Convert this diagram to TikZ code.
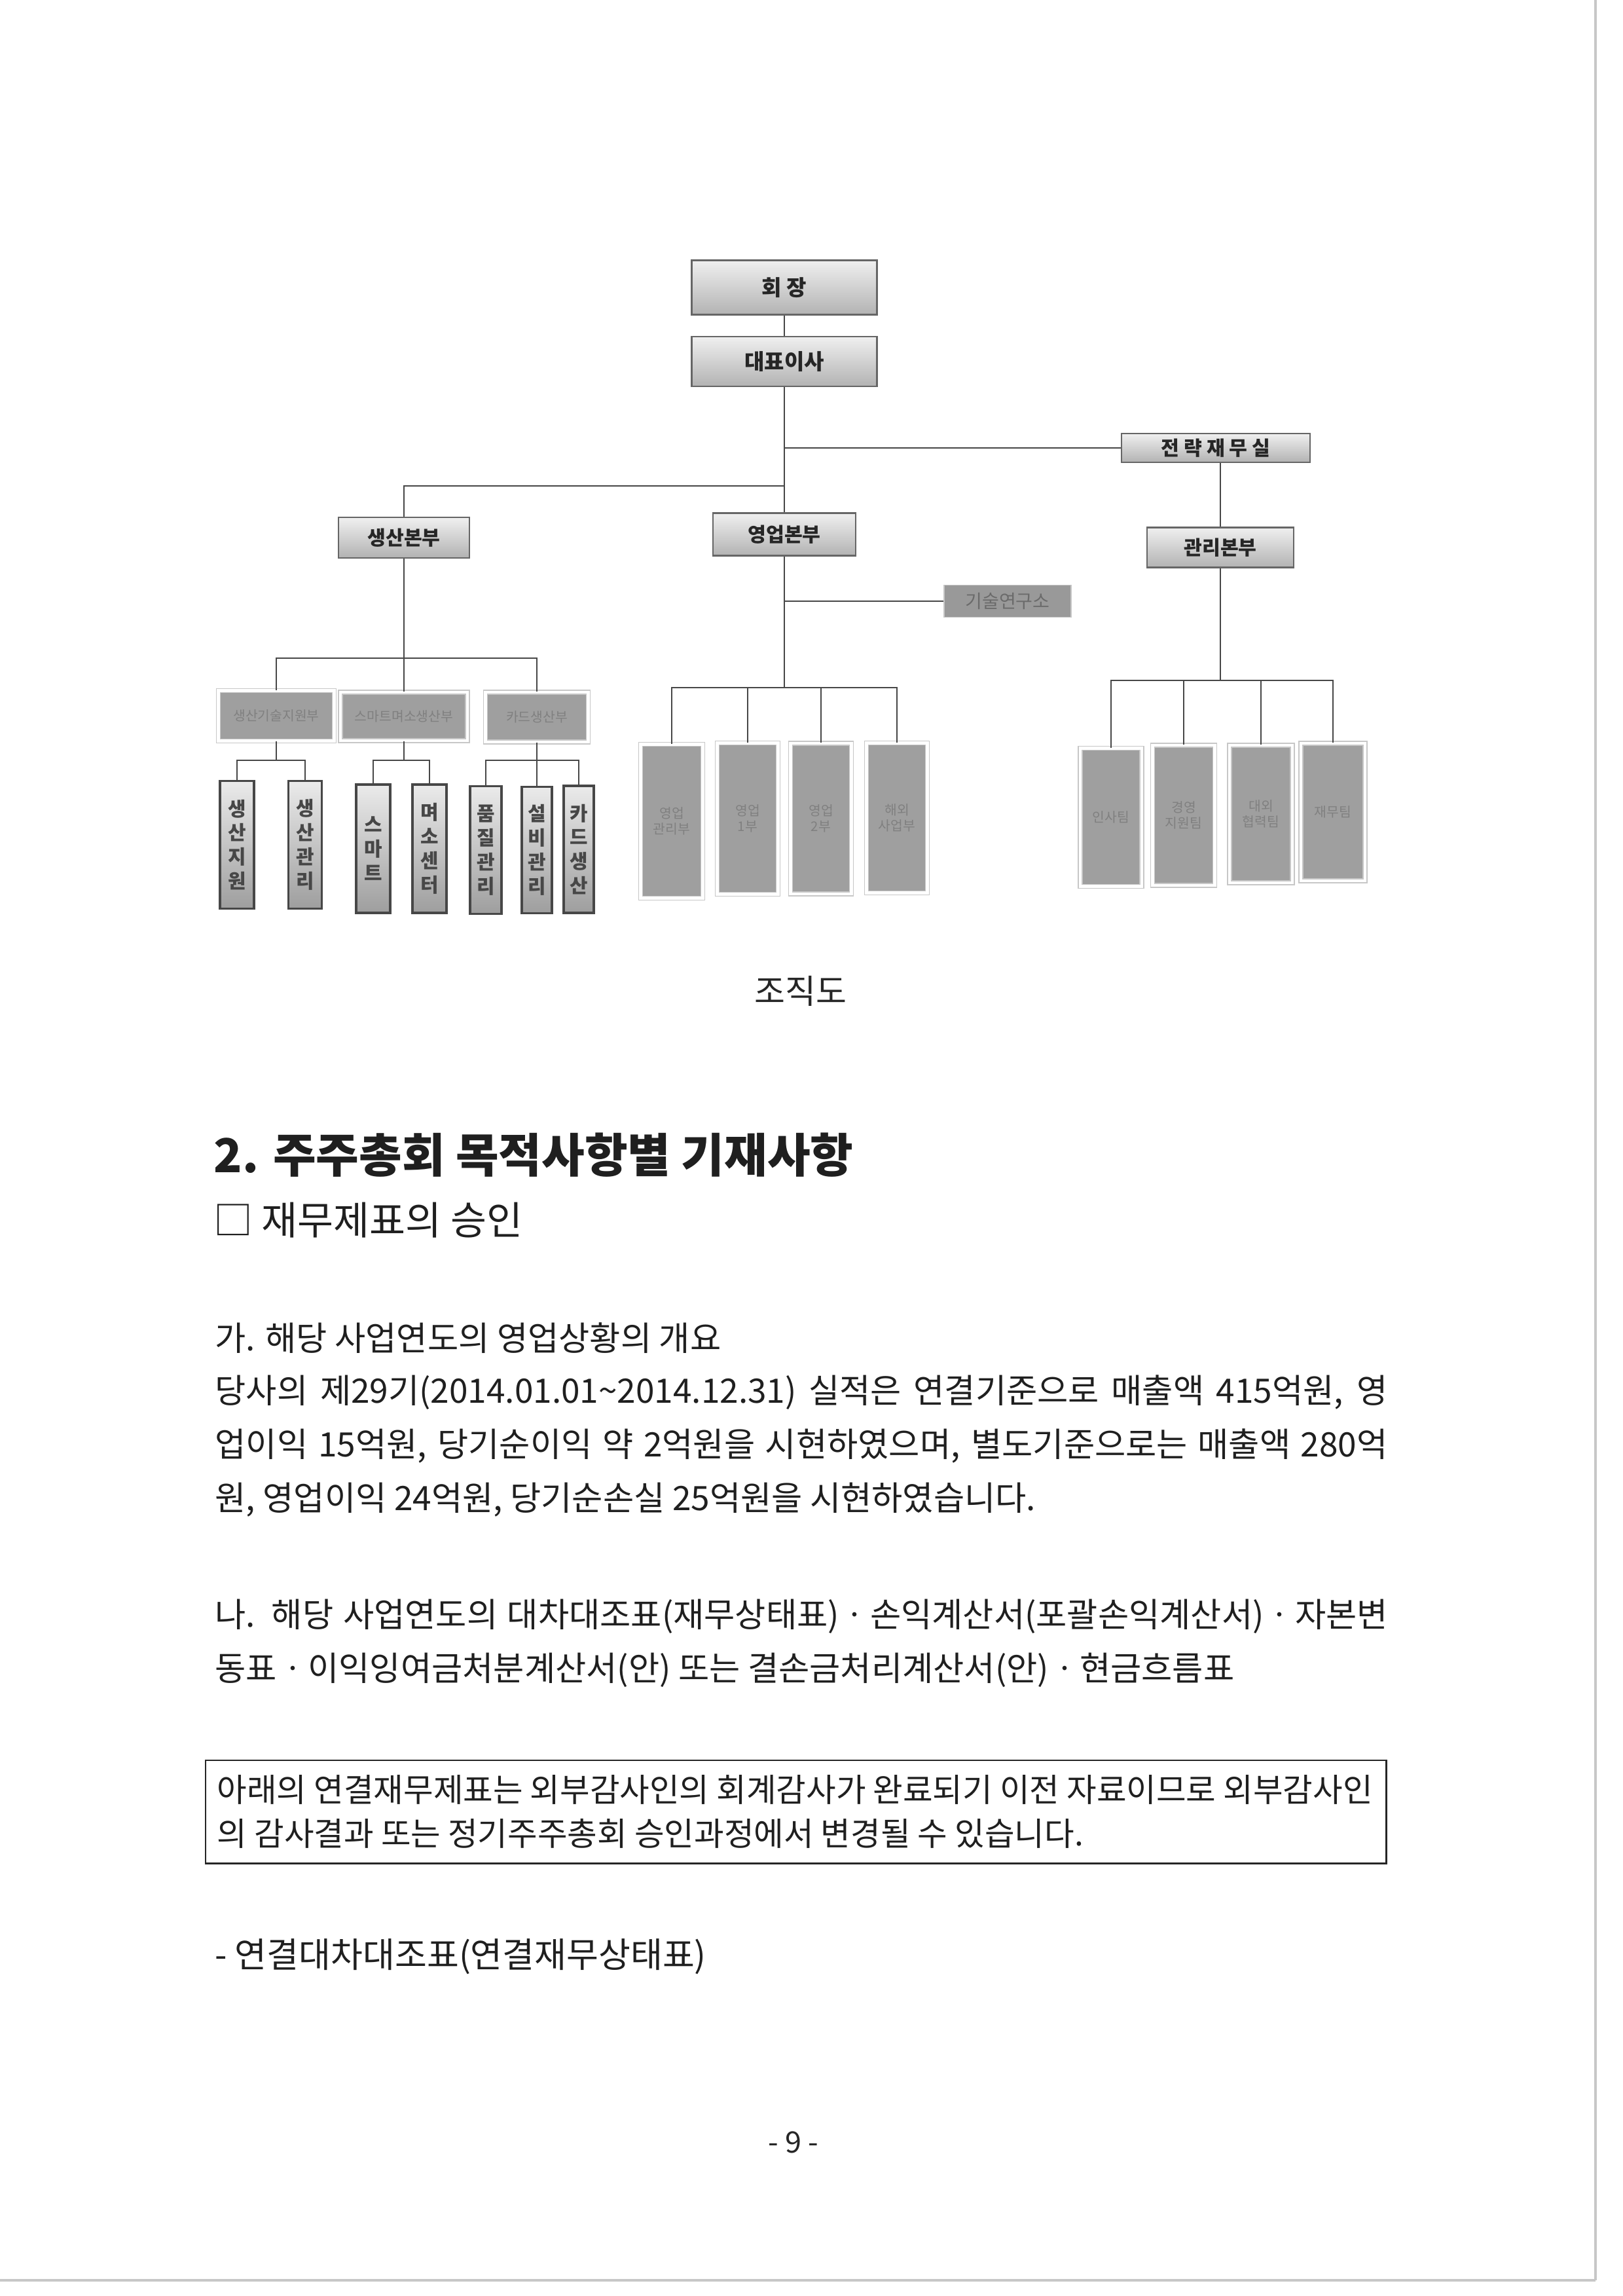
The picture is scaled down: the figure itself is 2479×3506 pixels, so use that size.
\documentclass[tikz,border=0pt]{standalone}
\usepackage{fontspec}
\setmainfont{Noto Sans CJK KR}
\definecolor{boxg}{HTML}{9F9F9F}
\definecolor{ftext}{HTML}{808080}
\tikzset{
  link/.style={draw=black!72, line width=0.75pt},
  sz/.style 2 args={minimum width=#1*0.01cm, minimum height=#2*0.01cm},
  topbox/.style={draw=black!60, line width=0.6pt, top color=black!6, bottom color=black!30,
    text=black!85, font=\bfseries\fontsize{8.6}{9}\selectfont, inner sep=0pt},
  labbox/.style={fill=black!40, draw=black!22, line width=0.4pt, text=black!58,
    font=\fontsize{8}{9}\selectfont, inner sep=0pt},
  greybox/.style={fill=boxg, draw=black!22, double=white, double distance=1.4pt, line width=0.4pt,
    text=ftext, font=\fontsize{5.8}{7}\selectfont, align=center, inner sep=0pt},
  vbox/.style={draw=black!72, line width=1.1pt, top color=black!8, bottom color=black!38,
    text=black!72, font=\bfseries\fontsize{8.5}{10.5}\selectfont, align=center, inner sep=0pt},
  txt/.style={anchor=base west, inner sep=0pt, text=black!88},
  body/.style={txt, font=\fontsize{14.6}{17}\selectfont},
}
\begin{document}
\begin{tikzpicture}[x=0.01cm, y=-0.01cm]
\fill[white] (0,0) rectangle (2479,3506);
\useasboundingbox (0,0) rectangle (2479,3506);
% scan edges
\draw[black!22, line width=1pt] (2437,0) -- (2437,3482);
\draw[black!22, line width=1pt] (0,3482) -- (2437,3482);

% ---------- org chart ----------
\node[topbox, sz={283}{83}, font=\bfseries\fontsize{9.4}{10}\selectfont] (hj) at (1198,439) {회 장};
\node[topbox, sz={283}{76}, font=\bfseries\fontsize{9.4}{10}\selectfont] (ceo) at (1198,552) {대표이사};
\node[topbox, sz={288}{44}] (strat) at (1857,684) {전 략 재 무 실};
\node[topbox, sz={224}{61}] (mgmt) at (1864,836) {관리본부};
\node[topbox, sz={200}{62}] (prod) at (617,821) {생산본부};
\node[topbox, sz={218}{65}] (sales) at (1198,816) {영업본부};
\node[labbox, sz={194}{49}] (lab) at (1539,918) {기술연구소};

\coordinate (jp) at (1198,742);
\coordinate (jl) at (1198,918);
\coordinate (sb) at (1198,1050);
\coordinate (mb) at (1864,1039);
\coordinate (pb) at (617,1005);

\draw[link] (hj) -- (ceo);
\draw[link] (ceo.south) -- (sales.north);
\draw[link] (ceo.south |- strat.west) -- (strat.west);
\draw[link] (jp) -| (prod.north);
\draw[link] (strat.south -| mgmt.north) -- (mgmt.north);
\draw[link] (sales.south) -- (sb);
\draw[link] (jl) -- (lab.west);
\draw[link] (mgmt.south) -- (mb);
\draw[link] (prod.south) -- (pb);

% production level 2
\node[greybox, sz={177}{77}] (p1) at (422,1093) {생산기술지원부};
\node[greybox, sz={194}{74}] (p2) at (617,1094) {스마트며소생산부};
\node[greybox, sz={157}{76}] (p3) at (820,1095) {카드생산부};
\draw[link] (pb) -| (p1.north);
\draw[link] (pb) -- (p2.north);
\draw[link] (pb) -| (p3.north);

% production level 3
\coordinate (ab) at (422,1161);
\coordinate (bb) at (617,1161);
\coordinate (cb) at (820,1161);
\node[vbox, sz={52}{195}] (a1) at (362,1290) {생\\산\\지\\원};
\node[vbox, sz={51}{195}] (a2) at (466,1290) {생\\산\\관\\리};
\node[vbox, sz={52}{196}] (b1) at (570,1296) {스\\마\\트};
\node[vbox, sz={52}{196}] (b2) at (656,1296) {며\\소\\센\\터};
\node[vbox, sz={48}{195}] (c1) at (742,1298) {품\\질\\관\\리};
\node[vbox, sz={46}{193}] (c2) at (820,1298) {설\\비\\관\\리};
\node[vbox, sz={46}{194}] (c3) at (884,1297) {카\\드\\생\\산};
\draw[link] (p1.south) -- (ab);
\draw[link] (ab) -| (a1.north);
\draw[link] (ab) -| (a2.north);
\draw[link] (p2.south) -- (bb);
\draw[link] (bb) -| (b1.north);
\draw[link] (bb) -| (b2.north);
\draw[link] (p3.south) -- (c2.north);
\draw[link] (cb) -| (c1.north);
\draw[link] (cb) -| (c3.north);

% sales
\node[greybox, sz={95}{235}] (s1) at (1026,1254) {영업\\관리부};
\node[greybox, sz={93}{231}] (s2) at (1142,1250) {영업\\1부};
\node[greybox, sz={93}{230}] (s3) at (1254,1250) {영업\\2부};
\node[greybox, sz={93}{229}] (s4) at (1370,1249) {해외\\사업부};
\draw[link] (sb) -| (s1.north);
\draw[link] (sb) -| (s2.north);
\draw[link] (sb) -| (s3.north);
\draw[link] (sb) -| (s4.north);

% management
\node[greybox, sz={94}{211}] (m1) at (1697,1248) {인사팀};
\node[greybox, sz={95}{214}] (m2) at (1808,1245) {경영\\지원팀};
\node[greybox, sz={96}{210}] (m3) at (1926,1243) {대외\\협력팀};
\node[greybox, sz={98}{210}] (m4) at (2036,1240) {재무팀};
\draw[link] (mb) -| (m1.north);
\draw[link] (mb) -| (m2.north);
\draw[link] (mb) -| (m3.north);
\draw[link] (mb) -| (m4.north);

\node[anchor=base, inner sep=0pt, text=black!85, font=\fontsize{14.5}{16}\selectfont] (cap) at (1223,1532) {조직도};

% ---------- text ----------
\node[txt, font=\bfseries\fontsize{20.3}{23}\selectfont] (h2) at (326,1790) {2. 주주총회 목적사항별 기재사항};
\node[txt, font=\fontsize{17}{19}\selectfont] (h3) at (326,1885) {□ 재무제표의 승인};

\node[body] (l1) at (328,2062) {가. 해당 사업연도의 영업상황의 개요};
\node[body] (l2) at (328,2142) {\makebox[17.90cm][s]{당사의 제29기(2014.01.01\textasciitilde2014.12.31) 실적은 연결기준으로 매출액 415억원, 영}};
\node[body] (l3) at (328,2224) {\makebox[17.90cm][s]{업이익 15억원, 당기순이익 약 2억원을 시현하였으며, 별도기준으로는 매출액 280억}};
\node[body] (l4) at (328,2306) {원, 영업이익 24억원, 당기순손실 25억원을 시현하였습니다.};

\node[body] (l5) at (328,2484) {\makebox[17.90cm][s]{나. 해당 사업연도의 대차대조표(재무상태표)ㆍ손익계산서(포괄손익계산서)ㆍ자본변}};
\node[body] (l6) at (328,2566) {동표ㆍ이익잉여금처분계산서(안) 또는 결손금처리계산서(안)ㆍ현금흐름표};

\node[draw=black!85, line width=0.7pt, minimum width=18.02cm, minimum height=1.57cm, anchor=north west, inner sep=0pt] (note) at (313,2687) {};
\node[txt, font=\fontsize{14.1}{16}\selectfont] (n1) at (331,2751) {\makebox[17.64cm][s]{아래의 연결재무제표는 외부감사인의 회계감사가 완료되기 이전 자료이므로 외부감사인}};
\node[txt, font=\fontsize{14.1}{16}\selectfont] (n2) at (331,2818) {의 감사결과 또는 정기주주총회 승인과정에서 변경될 수 있습니다.};

\node[txt, font=\fontsize{15.1}{17}\selectfont] (l7) at (328,3004) {- 연결대차대조표(연결재무상태표)};

\node[anchor=base, inner sep=0pt, text=black!85, font=\fontsize{12.8}{14}\selectfont] (pg) at (1212,3287) {- 9 -};
\end{tikzpicture}
\end{document}
